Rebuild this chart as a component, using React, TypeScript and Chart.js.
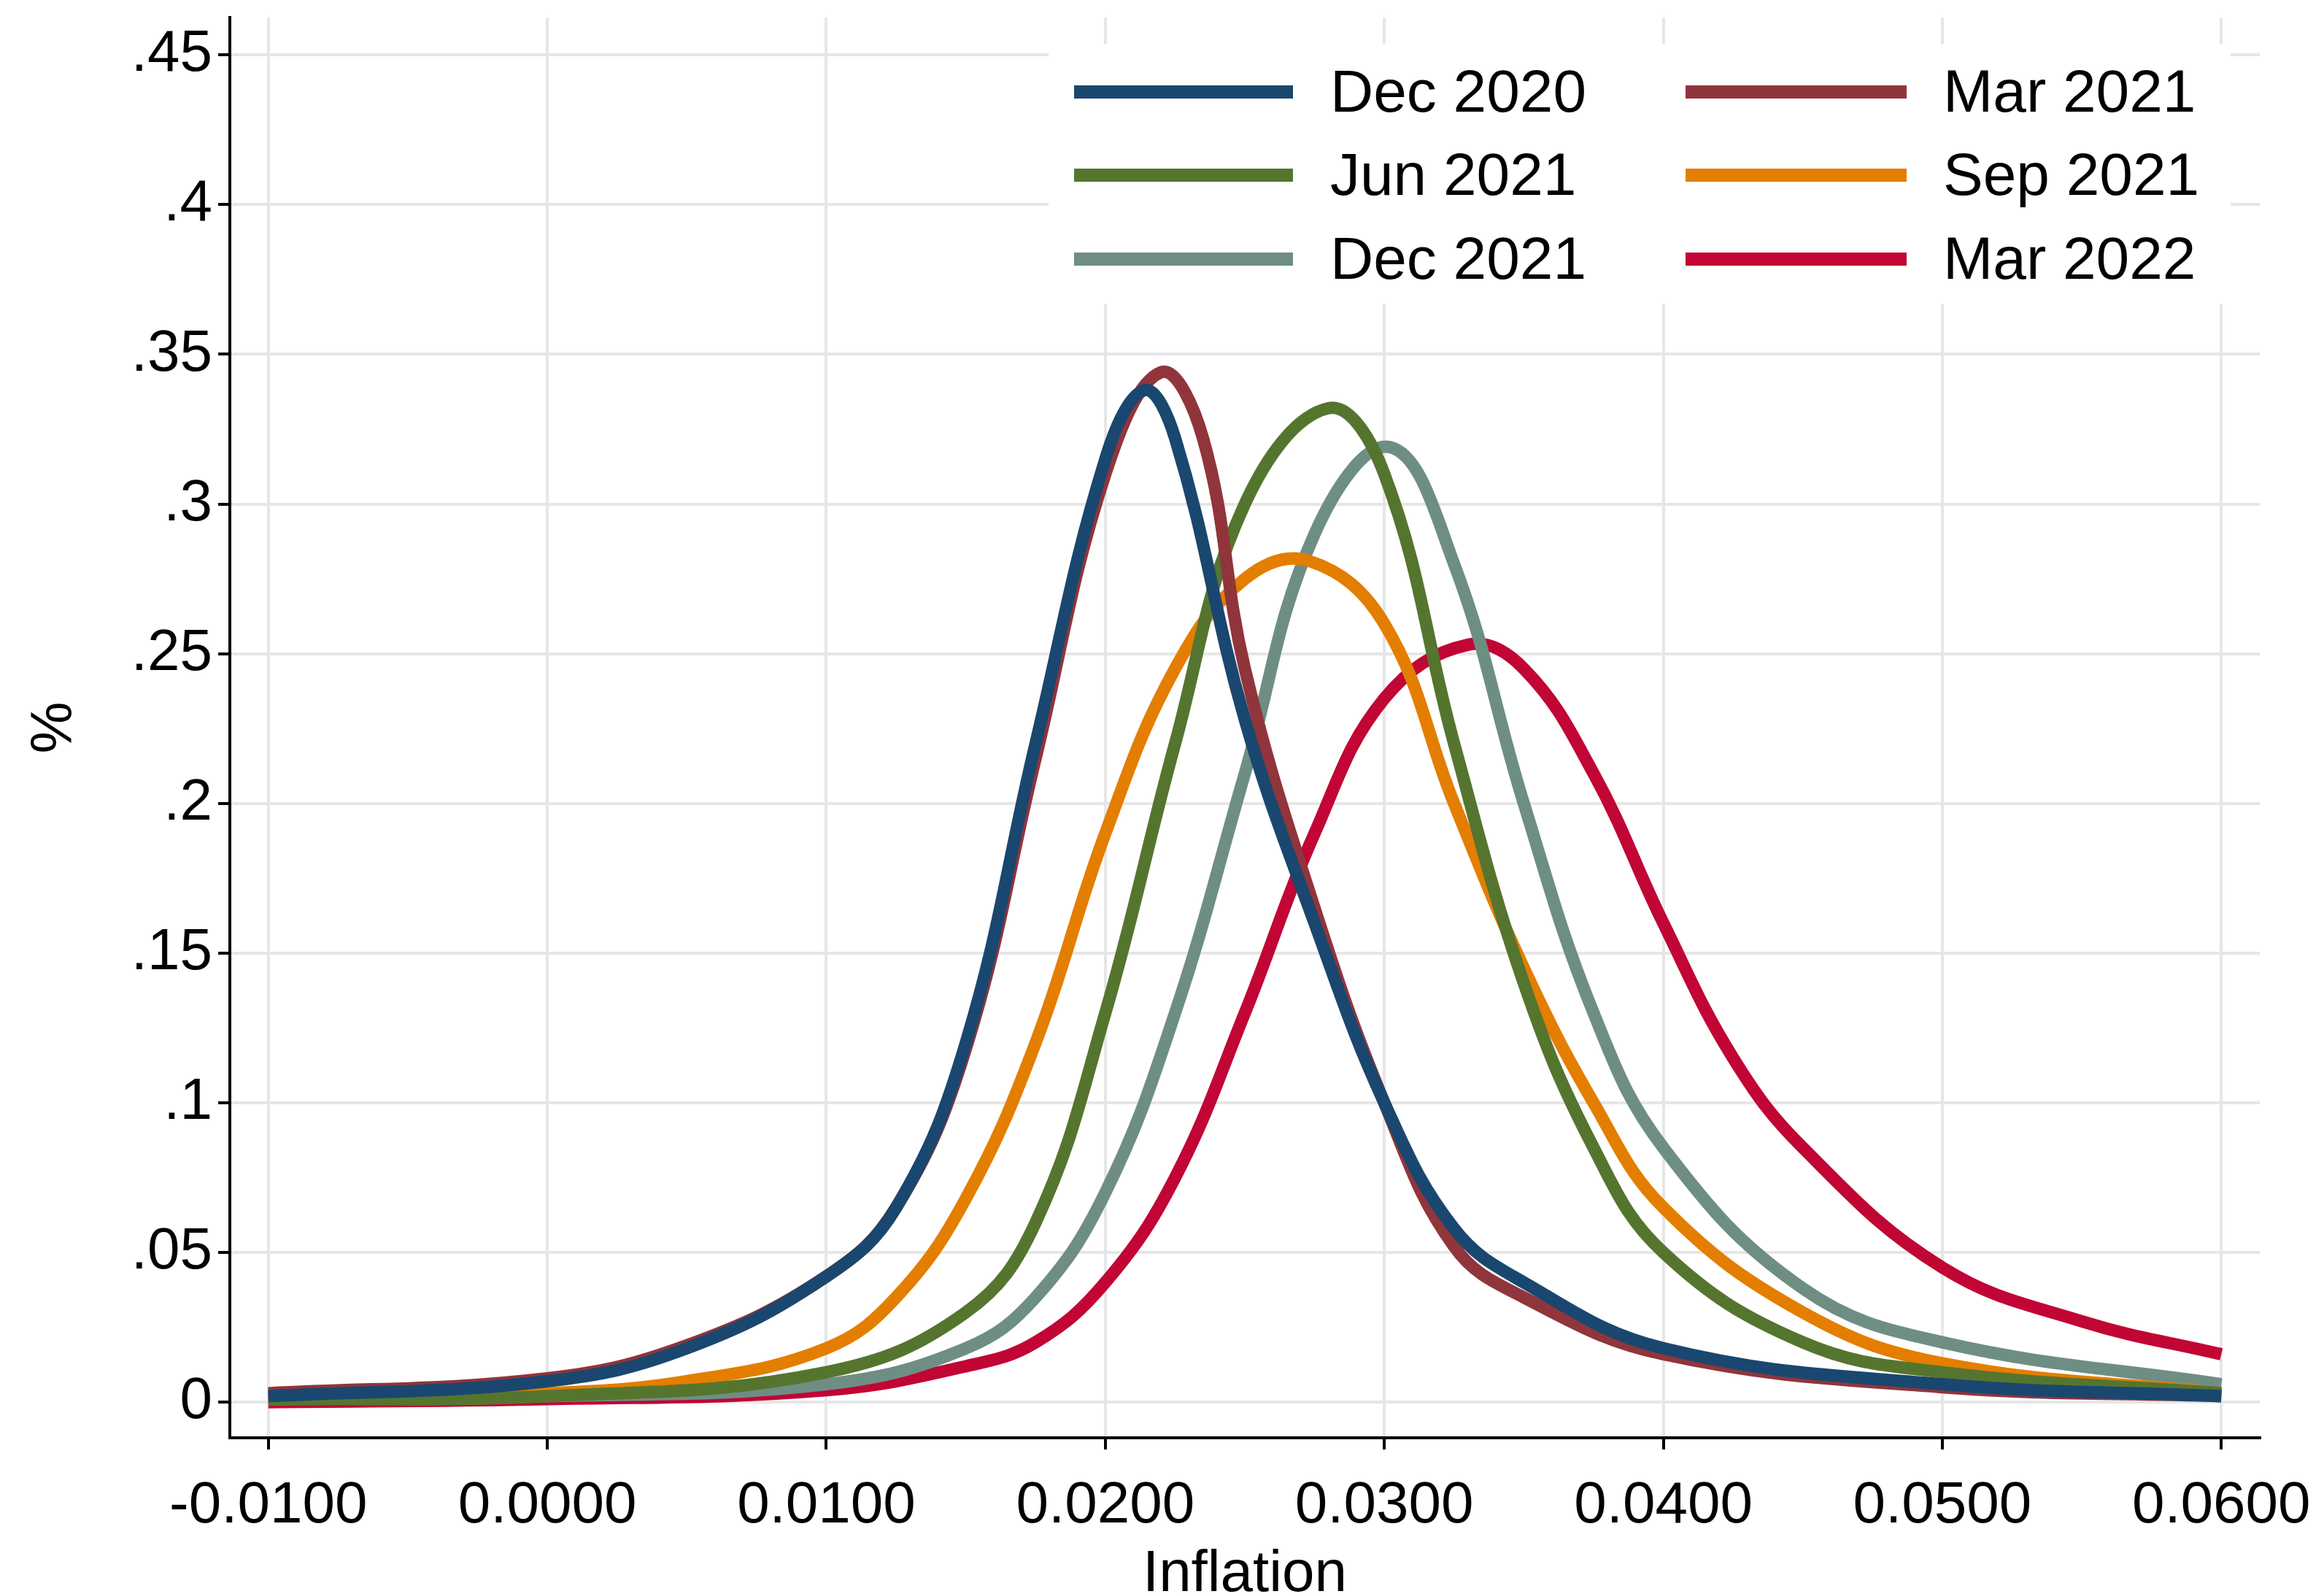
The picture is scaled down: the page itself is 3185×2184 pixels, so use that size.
import React, { useEffect, useRef } from "react";
import { Chart, registerables } from "chart.js";
Chart.register(...registerables);

const seriesNames = ["Dec 2020", "Mar 2021", "Jun 2021", "Sep 2021", "Dec 2021", "Mar 2022"];
const seriesColors = ["#1a476f", "#90353b", "#55752f", "#e37e00", "#6e8e84", "#c10534"];

const dec2020X = [-0.01, 0, 0.005, 0.01, 0.0125, 0.015, 0.0175, 0.02, 0.0214, 0.0225, 0.025, 0.0275, 0.03, 0.0325, 0.035, 0.04, 0.05, 0.06];
const dec2020Y = [0.002, 0.007, 0.018, 0.042, 0.065, 0.12, 0.22, 0.315, 0.338, 0.322, 0.228, 0.16, 0.1, 0.058, 0.04, 0.018, 0.006, 0.002];
const mar2021X = [-0.01, 0, 0.005, 0.01, 0.0125, 0.015, 0.0175, 0.02, 0.022, 0.0235, 0.025, 0.0275, 0.03, 0.0325, 0.035, 0.04, 0.05, 0.06];
const mar2021Y = [0.003, 0.008, 0.019, 0.042, 0.065, 0.118, 0.215, 0.31, 0.344, 0.322, 0.245, 0.165, 0.1, 0.052, 0.035, 0.016, 0.005, 0.002];
const jun2021X = [-0.01, 0, 0.01, 0.015, 0.0175, 0.02, 0.0225, 0.025, 0.028, 0.03, 0.0325, 0.035, 0.0375, 0.04, 0.045, 0.05, 0.06];
const jun2021Y = [0.001, 0.002, 0.01, 0.03, 0.06, 0.13, 0.22, 0.3, 0.332, 0.31, 0.22, 0.14, 0.085, 0.05, 0.02, 0.01, 0.003];
const sep2021X = [-0.01, 0, 0.005, 0.01, 0.0125, 0.015, 0.0175, 0.02, 0.0225, 0.025, 0.0273, 0.03, 0.0325, 0.035, 0.0375, 0.04, 0.045, 0.05, 0.06];
const sep2021Y = [0.001, 0.003, 0.007, 0.018, 0.035, 0.068, 0.12, 0.19, 0.245, 0.275, 0.281, 0.26, 0.2, 0.145, 0.1, 0.065, 0.03, 0.013, 0.003];
const dec2021X = [-0.01, 0, 0.01, 0.015, 0.0175, 0.02, 0.0225, 0.025, 0.0275, 0.0302, 0.0325, 0.035, 0.0375, 0.04, 0.045, 0.05, 0.06];
const dec2021Y = [0.001, 0.002, 0.006, 0.018, 0.035, 0.07, 0.13, 0.21, 0.29, 0.319, 0.28, 0.2, 0.13, 0.085, 0.038, 0.02, 0.006];
const mar2022X = [-0.01, 0, 0.01, 0.015, 0.0175, 0.02, 0.0225, 0.025, 0.0275, 0.03, 0.033, 0.035, 0.0375, 0.04, 0.0425, 0.045, 0.05, 0.055, 0.06];
const mar2022Y = [0.0, 0.001, 0.004, 0.012, 0.02, 0.04, 0.075, 0.13, 0.19, 0.235, 0.253, 0.245, 0.21, 0.16, 0.115, 0.085, 0.045, 0.027, 0.016];

const xs = [dec2020X, mar2021X, jun2021X, sep2021X, dec2021X, mar2022X];
const ys = [dec2020Y, mar2021Y, jun2021Y, sep2021Y, dec2021Y, mar2022Y];

const xTicks = [-0.01, 0, 0.01, 0.02, 0.03, 0.04, 0.05, 0.06];
const yTicks = [0, 0.05, 0.1, 0.15, 0.2, 0.25, 0.3, 0.35, 0.4, 0.45];
const yTickLabels = ["0", ".05", ".1", ".15", ".2", ".25", ".3", ".35", ".4", ".45"];

const FONT = "'Liberation Sans', Arial, sans-serif";
const SHIFT = 40;
const EXTRA_BOTTOM = 30;

const legendPlugin = {
  id: "insideLegend",
  afterDraw(chart: any) {
    const ctx = chart.ctx;
    ctx.save();
    ctx.fillStyle = "#ffffff";
    ctx.fillRect(1429, 52 + SHIFT, 1620, 356);
    const order = [[0, 1], [2, 3], [4, 5]];
    const rowsY = [118 + SHIFT, 232 + SHIFT, 347 + SHIFT];
    const cols = [{ l0: 1464, l1: 1764, t: 1815 }, { l0: 2302, l1: 2605, t: 2655 }];
    ctx.font = `82px ${FONT}`;
    ctx.textBaseline = "middle";
    order.forEach((row, r) => {
      row.forEach((si, c) => {
        ctx.strokeStyle = seriesColors[si];
        ctx.lineWidth = 18;
        ctx.beginPath();
        ctx.moveTo(cols[c].l0, rowsY[r]);
        ctx.lineTo(cols[c].l1, rowsY[r]);
        ctx.stroke();
        ctx.fillStyle = "#000";
        ctx.fillText(seriesNames[si], cols[c].t, rowsY[r] + 4);
      });
    });
    ctx.restore();
  },
};

export default function App() {
  const ref = useRef<HTMLCanvasElement>(null);
  useEffect(() => {
    const chart = new Chart(ref.current!, {
      type: "line",
      data: {
        datasets: seriesNames.map((n, i) => ({
          label: n,
          data: xs[i].map((x, j) => ({ x, y: ys[i][j] })),
          borderColor: seriesColors[i],
          borderWidth: 17,
          pointRadius: 0,
          fill: false,
          tension: 0.4,
        })),
      },
      options: {
        animation: false,
        responsive: false,
        devicePixelRatio: 1,
        layout: { padding: { top: 0, right: 80, left: 0, bottom: 0 } },
        plugins: { legend: { display: false }, tooltip: { enabled: false } },
        scales: {
          x: {
            type: "linear",
            min: -0.01138,
            max: 0.06138,
            afterBuildTicks: (s: any) => { s.ticks = xTicks.map((v) => ({ value: v })); },
            afterFit: (s: any) => { s.height = 206 + EXTRA_BOTTOM; s.paddingRight = 0; s.paddingLeft = 0; },
            ticks: {
              color: "#000",
              font: { size: 80, family: FONT },
              callback: (v: any) => Number(v).toFixed(4),
              maxRotation: 0,
              autoSkip: false,
              padding: 30,
            },
            grid: { color: "#e6e6e6", lineWidth: 4, tickColor: "#000", tickLength: 16 },
            border: { color: "#000", width: 4 },
            title: { display: true, text: "Inflation", color: "#000", font: { size: 80, family: FONT }, padding: { top: 0, bottom: 0 } },
          },
          y: {
            type: "linear",
            min: -0.0119,
            max: 0.4625,
            afterBuildTicks: (s: any) => { s.ticks = yTicks.map((v) => ({ value: v })); },
            afterFit: (s: any) => { s.width = 307; },
            ticks: {
              color: "#000",
              font: { size: 80, family: FONT },
              callback: (v: any) => yTickLabels[yTicks.findIndex((t) => Math.abs(t - Number(v)) < 1e-9)] ?? "",
              autoSkip: false,
              padding: 8,
            },
            grid: { color: "#e6e6e6", lineWidth: 4, tickColor: "#000", tickLength: 16 },
            border: { color: "#000", width: 4 },
            title: { display: true, text: "%", color: "#000", font: { size: 80, family: FONT }, padding: { top: 20, bottom: 0 } },
          },
        },
      },
      plugins: [legendPlugin],
    });
    return () => chart.destroy();
  }, []);
  return <canvas ref={ref} width={3169} height={2168 + SHIFT + EXTRA_BOTTOM} style={{ display: "block", marginTop: -SHIFT }} />;
}
